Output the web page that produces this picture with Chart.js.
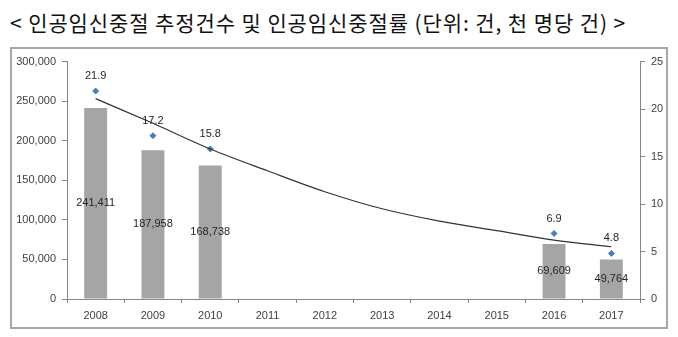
<!DOCTYPE html>
<html>
<head>
<meta charset="utf-8">
<script src="https://cdn.jsdelivr.net/npm/chart.js@4.4.1/dist/chart.umd.min.js"></script>
<style>
  body { margin: 0; background: #fff; width: 678px; height: 337px; position: relative; overflow: hidden; }
  #title { position: absolute; left: 10px; top: 8px; font-family: "Noto Sans CJK KR", sans-serif; font-size: 21px; letter-spacing: 0.9px; color: #111; white-space: nowrap; line-height: 28px; }
  #box { position: absolute; left: 10px; top: 47px; width: 658px; height: 282px; border: 2px solid #a6a6a6; box-sizing: border-box; }
  #mycanvas { display: block; }
</style>
</head>
<body>
<div id="title">&lt; 인공임신중절 추정건수 및 인공임신중절률 (단위: 건, 천 명당 건) &gt;</div>
<div id="box"><canvas id="mycanvas" width="654" height="278"></canvas></div>
<script>
var years = ["2008", "2009", "2010", "2011", "2012", "2013", "2014", "2015", "2016", "2017"];
var abortions = [241411, 187958, 168738, null, null, null, null, null, 69609, 49764];
var rates = [21.9, 17.2, 15.8, null, null, null, null, null, 6.9, 4.8];
// trend curve
var trend = [21.1, 18.5, 15.8, 13.5, 11.3, 9.5, 8.2, 7.2, 6.2, 5.5];

var leftTicks = [0, 50000, 100000, 150000, 200000, 250000, 300000];
var rightTicks = [0, 5, 10, 15, 20, 25];

var axisColor = "#868686";
var textColor = "#404040";
var tickFont = { family: "Liberation Sans", size: 11 };

var labelPlugin = {
	id: "valueLabels",
	afterDatasetsDraw: function(chart) {
		var ctx = chart.ctx;
		ctx.save();
		ctx.font = "11px 'Liberation Sans'";
		ctx.fillStyle = "#262626";
		ctx.textAlign = "center";
		ctx.textBaseline = "middle";
		var barMeta = chart.getDatasetMeta(2);
		barMeta.data.forEach(function(el, i) {
			if (abortions[i] == null) return;
			ctx.fillText(abortions[i].toLocaleString("en-US"), el.x, (el.y + el.base) / 2);
		});
		var rateMeta = chart.getDatasetMeta(1);
		rateMeta.data.forEach(function(el, i) {
			if (rates[i] == null) return;
			ctx.fillText(rates[i].toFixed(1), el.x, el.y - 15);
		});
		ctx.restore();
	}
};

var ctx = document.getElementById("mycanvas");

var chart = new Chart(ctx, {
	type: "bar",
	data: {
		labels: years,
		datasets: [
			{
				type: "line",
				label: "trend",
				data: trend,
				yAxisID: "y2",
				borderColor: "#333333",
				borderWidth: 1.2,
				pointRadius: 0,
				fill: false,
				cubicInterpolationMode: "monotone",
				order: 0
			},
			{
				type: "line",
				label: "rate",
				data: rates,
				yAxisID: "y2",
				showLine: false,
				pointStyle: "rectRot",
				pointRadius: 3,
				pointBackgroundColor: "#4a7ebb",
				pointBorderColor: "#4a7ebb",
				order: 1
			},
			{
				type: "bar",
				label: "count",
				data: abortions,
				yAxisID: "y",
				backgroundColor: "#a5a5a5",
				barPercentage: 0.4,
				categoryPercentage: 1.0,
				order: 2
			}
		]
	},
	options: {
		responsive: false,
		animation: false,
		layout: { padding: { top: 11 } },
		plugins: {
			legend: { display: false },
			tooltip: { enabled: false }
		},
		scales: {
			x: {
				grid: { display: true, drawOnChartArea: false, color: axisColor, tickLength: 4, offset: true },
				border: { color: axisColor },
				ticks: { color: textColor, font: tickFont, padding: 6, maxRotation: 0 },
				afterFit: function(s) { s.height = 28; }
			},
			y: {
				position: "left",
				min: 0,
				max: 300000,
				afterBuildTicks: function(s) { s.ticks = leftTicks.map(function(v) { return { value: v }; }); },
				grid: { display: true, drawOnChartArea: false, color: axisColor, tickLength: 5 },
				border: { color: axisColor },
				ticks: {
					color: textColor, font: tickFont, padding: 6,
					callback: function(v) { return v.toLocaleString("en-US"); }
				},
				afterFit: function(s) { s.width = 55; }
			},
			y2: {
				position: "right",
				min: 0,
				max: 25,
				afterBuildTicks: function(s) { s.ticks = rightTicks.map(function(v) { return { value: v }; }); },
				grid: { display: true, drawOnChartArea: false, color: axisColor, tickLength: 5 },
				border: { color: axisColor },
				ticks: { color: textColor, font: tickFont, padding: 6 },
				afterFit: function(s) { s.width = 26; }
			}
		}
	},
	plugins: [labelPlugin]
});
</script>
</body>
</html>
